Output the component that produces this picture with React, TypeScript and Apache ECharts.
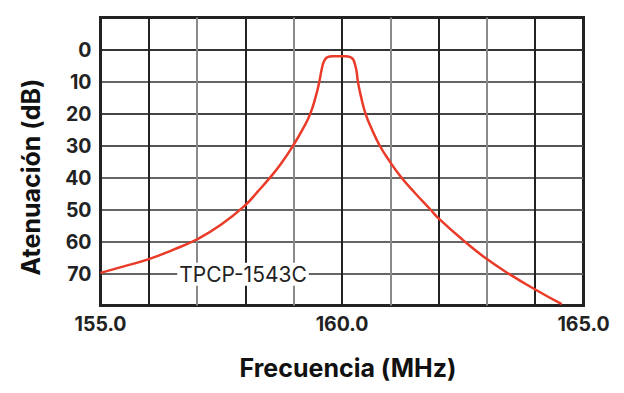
import React, { useEffect, useRef } from "react";
import * as echarts from "echarts";

const frequencies = [
  155.0, 155.5, 156.0, 156.5, 157.0, 157.5, 158.0, 158.25, 158.5, 158.74, 158.98, 159.19,
  159.34, 159.46, 159.53, 159.58, 159.63, 159.7, 159.8, 160.05, 160.19, 160.28, 160.33,
  160.39, 160.49, 160.62, 160.78, 160.98, 161.23, 161.52, 161.83, 162.0, 162.5, 163.0, 163.5,
  164.0, 164.55,
];
const attenuation = [
  69.8, 67.7, 65.5, 62.6, 59.3, 54.7, 48.6, 44.5, 40.2, 35.6, 30.2, 24.8,
  20.2, 14.5, 10.1, 6.2, 3.6, 2.4, 2.1, 2.1, 2.5, 5.3, 10.1,
  14.5, 20.2, 25.0, 30.0, 34.8, 40.0, 45.0, 50.0, 52.8, 59.5, 65.5, 70.5,
  75.0, 79.6,
];
const xLabelValues = [155, 160, 165];
const yLabelValues = [0, 10, 20, 30, 40, 50, 60, 70];
const modelName = "TPCP-1543C";
const modelCoord = [157.95, 70.2];

const FONT = "Inter, 'Noto Sans', sans-serif";

export default function App() {
  const ref = useRef<HTMLDivElement>(null);
  useEffect(() => {
    document.body.style.margin = "0";
    if (!ref.current) return;
    const chart = echarts.init(ref.current, undefined, { renderer: "svg" });
    const xColors = ["#222", "#222", "#8a8a8a", "#222", "#8a8a8a", "#222", "#8a8a8a", "#222", "#8a8a8a", "#222", "#222"];
    const yColors = ["#222", "#333", "#666", "#444", "#555", "#666", "#666", "#666", "#666", "#222"];
    chart.setOption({
      animation: false,
      backgroundColor: "#fff",
      grid: {
        left: 100.5,
        right: 40.5,
        top: 17.5,
        bottom: 87.5,
        show: true,
        borderColor: "#222",
        borderWidth: 3,
        backgroundColor: "transparent",
      },
      xAxis: {
        type: "value",
        min: 155,
        max: 165,
        interval: 1,
        axisLine: { show: false },
        axisTick: { show: false },
        splitLine: { show: true, lineStyle: { color: xColors, width: 2 } },
        axisLabel: {
          margin: 8,
          fontFamily: FONT,
          fontWeight: "bold",
          fontSize: 19.5,
          color: "#222",
          formatter: (v: number) => (xLabelValues.includes(v) ? v.toFixed(1) : ""),
        },
      },
      yAxis: {
        type: "value",
        inverse: true,
        min: -10,
        max: 80,
        interval: 10,
        axisLine: { show: false },
        axisTick: { show: false },
        splitLine: { show: true, lineStyle: { color: yColors, width: 2 } },
        axisLabel: {
          margin: 9,
          fontFamily: FONT,
          fontWeight: "bold",
          fontSize: 19.5,
          color: "#222",
          formatter: (v: number) => (yLabelValues.includes(v) ? String(v) : ""),
        },
      },
      graphic: [
        {
          type: "text",
          x: 348,
          y: 367.5,
          style: {
            text: "Frecuencia (MHz)",
            fontFamily: FONT,
            fontWeight: "bold",
            fontSize: 25,
            fill: "#111",
            align: "center",
            verticalAlign: "middle",
          },
        },
        {
          type: "text",
          x: 31,
          y: 177,
          rotation: Math.PI / 2,
          style: {
            text: "Atenuación (dB)",
            fontFamily: FONT,
            fontWeight: "bold",
            fontSize: 25,
            fill: "#111",
            align: "center",
            verticalAlign: "middle",
          },
        },
      ],
      series: [
        {
          type: "line",
          data: frequencies.map((f, i) => [f, attenuation[i]]),
          showSymbol: false,
          smooth: 0.5,
          lineStyle: { color: "#ea3a28", width: 2.5 },
          z: 5,
          markPoint: {
            symbol: "circle",
            symbolSize: 0,
            data: [{ coord: modelCoord }],
            label: {
              show: true,
              position: "inside",
              formatter: modelName,
              fontFamily: FONT,
              fontSize: 21,
              color: "#222",
              backgroundColor: "#fff",
              padding: [1, 2],
            },
          },
        },
      ],
    });
    return () => chart.dispose();
  }, []);
  return <div ref={ref} style={{ width: 624, height: 393 }} />;
}
